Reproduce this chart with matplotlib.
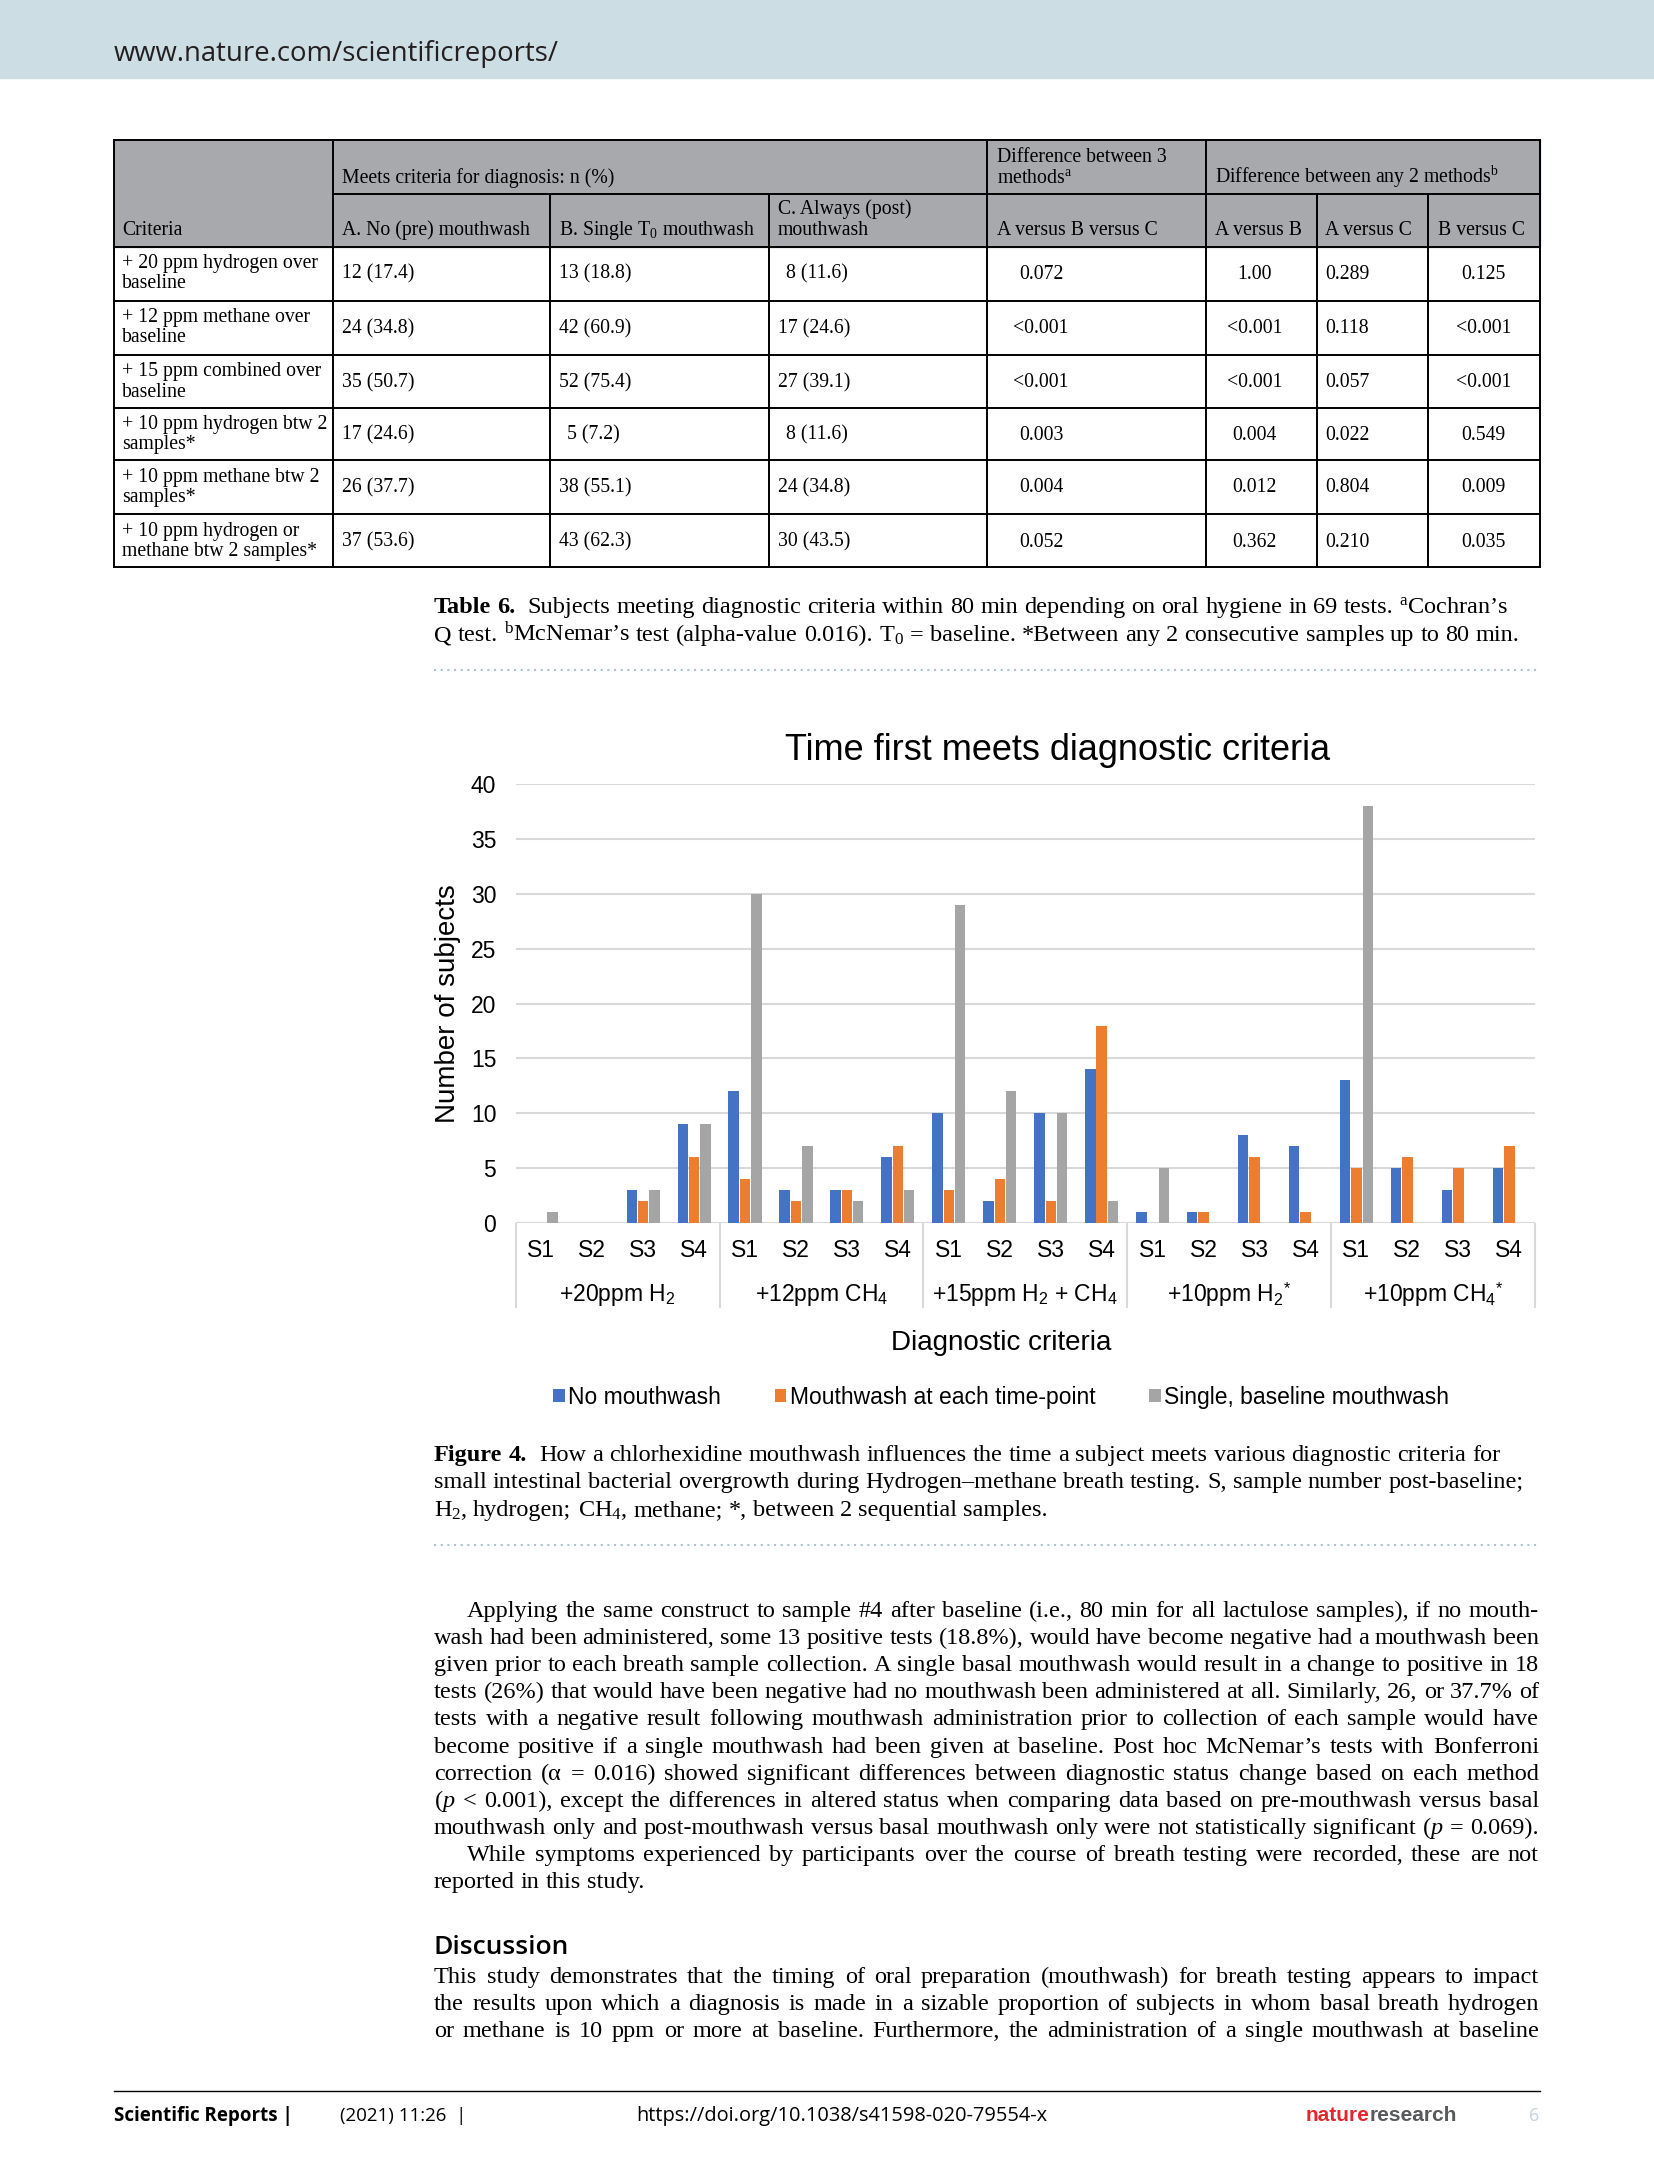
import matplotlib.pyplot as plt
from matplotlib.lines import Line2D
from matplotlib.patches import Rectangle, Patch

plt.rcParams['mathtext.fontset'] = 'custom'
plt.rcParams['mathtext.rm'] = 'Liberation Serif'
plt.rcParams['mathtext.it'] = 'Liberation Serif:italic'
plt.rcParams['mathtext.bf'] = 'Liberation Serif:bold'
plt.rcParams['mathtext.sf'] = 'Liberation Sans'

# ---- chart data (Figure 4) ----
groups = ['+20ppm H$_\\mathsf{2}$', '+12ppm CH$_\\mathsf{4}$', '+15ppm H$_\\mathsf{2}$ + CH$_\\mathsf{4}$',
          '+10ppm H$_\\mathsf{2}{}^\\mathsf{*}$', '+10ppm CH$_\\mathsf{4}{}^\\mathsf{*}$']
samples = ['S1', 'S2', 'S3', 'S4']
no_mouthwash = [0, 0, 3, 9, 12, 3, 3, 6, 10, 2, 10, 14, 1, 1, 8, 7, 13, 5, 3, 5]
each_timepoint = [0, 0, 2, 6, 4, 2, 3, 7, 3, 4, 2, 18, 0, 1, 6, 1, 5, 6, 5, 7]
single_baseline = [1, 0, 3, 9, 30, 7, 2, 3, 29, 12, 10, 2, 5, 0, 0, 0, 38, 0, 0, 0]
series_names = ['No mouthwash', 'Mouthwash at each time-point', 'Single, baseline mouthwash']

# ---- table data (Table 6) ----
criteria = ['+ 20 ppm hydrogen over\nbaseline', '+ 12 ppm methane over\nbaseline',
            '+ 15 ppm combined over\nbaseline', '+ 10 ppm hydrogen btw 2\nsamples*',
            '+ 10 ppm methane btw 2\nsamples*', '+ 10 ppm hydrogen or\nmethane btw 2 samples*']
col_a = ['12 (17.4)', '24 (34.8)', '35 (50.7)', '17 (24.6)', '26 (37.7)', '37 (53.6)']
col_b = ['13 (18.8)', '42 (60.9)', '52 (75.4)', '5 (7.2)', '38 (55.1)', '43 (62.3)']
col_c = ['8 (11.6)', '17 (24.6)', '27 (39.1)', '8 (11.6)', '24 (34.8)', '30 (43.5)']
p_abc = ['0.072', '<0.001', '<0.001', '0.003', '0.004', '0.052']
p_ab = ['1.00', '<0.001', '<0.001', '0.004', '0.012', '0.362']
p_ac = ['0.289', '0.118', '0.057', '0.022', '0.804', '0.210']
p_bc = ['0.125', '<0.001', '<0.001', '0.549', '0.009', '0.035']

NB = '\u00a0'
tab_cap = ['Table 6.  Subjects meeting diagnostic criteria within 80 min depending on oral hygiene in 69 tests. $^\\mathrm{a}$Cochran\u2019s',
           'Q test. $^\\mathrm{b}$McNemar\u2019s test (alpha-value 0.016). T$_0$' + NB + '=' + NB + 'baseline. *Between any 2 consecutive samples up to 80 min.']
fig_cap = ['Figure 4.  How a chlorhexidine mouthwash influences the time a subject meets various diagnostic criteria for',
           'small intestinal bacterial overgrowth during Hydrogen\u2013methane breath testing. S, sample number post-baseline;',
           'H$_2$, hydrogen; CH$_4$, methane; *, between 2 sequential samples.']
para1 = ['Applying the same construct to sample #4 after baseline (i.e., 80 min for all lactulose samples), if no mouth-',
         'wash had been administered, some 13 positive tests (18.8%), would have become negative had a mouthwash been',
         'given prior to each breath sample collection. A single basal mouthwash would result in a change to positive in 18',
         'tests (26%) that would have been negative had no mouthwash been administered at all. Similarly, 26, or 37.7% of',
         'tests with a negative result following mouthwash administration prior to collection of each sample would have',
         'become positive if a single mouthwash had been given at baseline. Post hoc McNemar\u2019s tests with Bonferroni',
         'correction (\u03b1' + NB + '=' + NB + '0.016) showed significant differences between diagnostic status change based on each method',
         '($p$' + NB + '<' + NB + '0.001), except the differences in altered status when comparing data based on pre-mouthwash versus basal',
         'mouthwash only and post-mouthwash versus basal mouthwash only were not statistically significant ($p$' + NB + '=' + NB + '0.069).']
para2 = ['While symptoms experienced by participants over the course of breath testing were recorded, these are not',
         'reported in this study.']
para3 = ['This study demonstrates that the timing of oral preparation (mouthwash) for breath testing appears to impact',
         'the results upon which a diagnosis is made in a sizable proportion of subjects in whom basal breath hydrogen',
         'or methane is 10 ppm or more at baseline. Furthermore, the administration of a single mouthwash at baseline']

# layout is measured on a 1193 x 1568 view of the page
W, H = 1193, 1568
K = 1654 / W


def fx(x):
    return x / W


def fy(y):
    return 1 - y / H


SERIF = 'Liberation Serif'
SANS = 'Liberation Sans'
OPEN = ['Open Sans', 'DejaVu Sans']

fig = plt.figure(figsize=(16.54, 21.74), dpi=100)
rend = fig.canvas.get_renderer()


def hline(x0, x1, y, **kw):
    fig.add_artist(Line2D([fx(x0), fx(x1)], [fy(y), fy(y)], transform=fig.transFigure, **kw))


def vline(x, y0, y1, **kw):
    fig.add_artist(Line2D([fx(x), fx(x)], [fy(y0), fy(y1)], transform=fig.transFigure, **kw))


def put_line(line, x0, y, size, x1=None, bold=0):
    # place a line word by word, stretching the spaces when x1 is given
    words = line.split()
    arts = [fig.text(0, fy(y), w, fontsize=size, family=SERIF, va='baseline', ha='left',
                     weight='bold' if i < bold else 'normal') for i, w in enumerate(words)]
    widths = [a.get_window_extent(rend).width for a in arts]
    space = size * 100 / 72 * 0.25
    extra = space if bold else 0
    if x1 is not None and len(words) > 1:
        space = ((x1 - x0) * K - sum(widths) - extra) / (len(words) - 1)
    pos = x0 * K
    for i, (a, w) in enumerate(zip(arts, widths)):
        a.set_x(pos / 1654)
        pos += w + space
        if i == bold - 1:
            pos += extra


# ---- page header ----
fig.add_artist(Rectangle((0, fy(56)), 1, fy(0) - fy(56), transform=fig.transFigure,
                         color='#cddde4', zorder=0))
fig.text(fx(82), fy(44), 'www.nature.com/scientificreports/', family=OPEN, fontsize=19.8,
         color='#231f20', va='baseline')

# ---- table ----
rows = [178, 217, 256, 294, 332, 371, 409]
fig.add_artist(Rectangle((fx(82), fy(178)), fx(1111) - fx(82), fy(101) - fy(178),
                         transform=fig.transFigure, color='#a7a9ac', zorder=0))
tl = dict(color='black', lw=1.4)
hline(82, 1111, 101, **tl)
hline(240, 1111, 140, **tl)
for r in rows:
    hline(82, 1111, r, **tl)
for x in [82, 240, 712, 870, 1111]:
    vline(x, 101, 409, **tl)
for x in [397, 555, 950, 1030]:
    vline(x, 140, 409, **tl)

ts = 14.2
fig.text(fx(88), fy(169.5), 'Criteria', family=SERIF, fontsize=ts, va='baseline')
fig.text(fx(247), fy(132), 'Meets criteria for diagnosis: n (%)', family=SERIF, fontsize=ts, va='baseline')
fig.text(fx(719), fy(116.5), 'Difference between 3', family=SERIF, fontsize=ts, va='baseline')
fig.text(fx(719), fy(132), 'methods$^\\mathrm{a}$', family=SERIF, fontsize=ts, va='baseline')
fig.text(fx(876), fy(132), 'Difference between any 2 methods$^\\mathrm{b}$', family=SERIF, fontsize=ts, va='baseline')
fig.text(fx(247), fy(169.5), 'A. No (pre) mouthwash', family=SERIF, fontsize=ts, va='baseline')
fig.text(fx(403), fy(169.5), 'B. Single T$_0$ mouthwash', family=SERIF, fontsize=ts, va='baseline')
fig.text(fx(561), fy(154.5), 'C. Always (post)', family=SERIF, fontsize=ts, va='baseline')
fig.text(fx(561), fy(169.5), 'mouthwash', family=SERIF, fontsize=ts, va='baseline')
fig.text(fx(719), fy(169.5), 'A versus B versus C', family=SERIF, fontsize=ts, va='baseline')
fig.text(fx(876), fy(169.5), 'A versus B', family=SERIF, fontsize=ts, va='baseline')
fig.text(fx(956), fy(169.5), 'A versus C', family=SERIF, fontsize=ts, va='baseline')
fig.text(fx(1037), fy(169.5), 'B versus C', family=SERIF, fontsize=ts, va='baseline')

for i in range(6):
    top = rows[i]
    base = top + 23.2
    l1, l2 = criteria[i].split('\n')
    fig.text(fx(88), fy(top + 15.5), l1, family=SERIF, fontsize=ts, va='baseline')
    fig.text(fx(88), fy(top + 30), l2, family=SERIF, fontsize=ts, va='baseline')
    for x, v in [(247, col_a[i]), (403, col_b[i]), (561, col_c[i])]:
        if v.index(' ') == 1:
            x += 6
        fig.text(fx(x), fy(base), v, family=SERIF, fontsize=ts, va='baseline')
    fig.text(fx(751), fy(base), p_abc[i], family=SERIF, fontsize=ts, va='baseline', ha='center')
    fig.text(fx(905), fy(base), p_ab[i], family=SERIF, fontsize=ts, va='baseline', ha='center')
    fig.text(fx(956), fy(base), p_ac[i], family=SERIF, fontsize=ts, va='baseline')
    fig.text(fx(1070), fy(base), p_bc[i], family=SERIF, fontsize=ts, va='baseline', ha='center')

bs = 17.5
put_line(tab_cap[0], 313, 442, bs, bold=2)
put_line(tab_cap[1], 313, 462.5, bs)
dots = dict(color='#a9c3cc', lw=1.5, linestyle=(0, (1, 2.2)))
hline(313, 1111, 483, **dots)

# ---- Figure 4 chart ----
ax = fig.add_axes([fx(372), fy(882), fx(1107) - fx(372), fy(565.7) - fy(882)])
x = list(range(20))
w = 0.205
off = 0.222
colors = ['#4472c4', '#ed7d31', '#a5a5a5']
ax.bar([i - off for i in x], no_mouthwash, width=w, color=colors[0], zorder=2)
ax.bar(x, each_timepoint, width=w, color=colors[1], zorder=2)
ax.bar([i + off for i in x], single_baseline, width=w, color=colors[2], zorder=2)
ax.set_xlim(-0.5, 19.5)
ax.set_ylim(0, 40)
ax.set_yticks(range(0, 41, 5))
ax.set_xticks([])
ax.tick_params(axis='y', length=0, pad=14, labelsize=16.5)
for lab in ax.get_yticklabels():
    lab.set_family(SANS)
ax.yaxis.grid(True, color='#d9d9d9', lw=1.5, zorder=0)
ax.set_axisbelow(True)
for s in ax.spines.values():
    s.set_visible(False)
ax.axhline(0, color='#d9d9d9', lw=1.5, zorder=1)
ax.vlines([-0.5, 3.5, 7.5, 11.5, 15.5, 19.5], -0.193, 0, transform=ax.get_xaxis_transform(),
          colors='#d9d9d9', lw=1.5, clip_on=False)
for i in x:
    ax.text(i, -0.062, samples[i % 4], transform=ax.get_xaxis_transform(), ha='center', va='center',
            family=SANS, fontsize=16.5)
for g, name in enumerate(groups):
    ax.text(4 * g + 1.5, -0.164, name, transform=ax.get_xaxis_transform(), ha='center', va='center',
            family=SANS, fontsize=16.5)

fig.text(fx(763), fy(541), 'Time first meets diagnostic criteria', family=SANS, fontsize=26,
         ha='center', va='center')
fig.text(fx(323), fy(724), 'Number of subjects', family=SANS, fontsize=20, rotation=90,
         ha='center', va='center')
fig.text(fx(722), fy(969), 'Diagnostic criteria', family=SANS, fontsize=20, ha='center', va='center')
handles = [Patch(facecolor=c) for c in colors]
ax.legend(handles, series_names, loc='center', bbox_to_anchor=(fx(722), fy(1008)),
          bbox_transform=fig.transFigure, ncol=3, frameon=False, handlelength=0.5, handleheight=0.5,
          handletextpad=0.15, columnspacing=2.35, prop={'family': SANS, 'size': 16.5})

# ---- figure caption ----
put_line(fig_cap[0], 313, 1053.5, bs, bold=2)
put_line(fig_cap[1], 313, 1073.5, bs)
put_line(fig_cap[2], 313, 1093.5, bs)
hline(313, 1111, 1114, **dots)

# ---- body text ----
y = 1166
for j, line in enumerate(para1):
    put_line(line, 337 if j == 0 else 313, y, bs, x1=1110)
    y += 19.6
put_line(para2[0], 337, y, bs, x1=1110)
y += 19.6
put_line(para2[1], 313, y, bs)

fig.text(fx(313), fy(1409), 'Discussion', family=OPEN, fontsize=19, weight='semibold', va='baseline')
y = 1430
for line in para3:
    put_line(line, 313, y, bs, x1=1110)
    y += 19.6

# ---- footer ----
hline(82, 1111, 1508, color='black', lw=1)
fig.text(fx(82), fy(1530), 'Scientific Reports |', family=OPEN, fontsize=13.5, weight='bold', va='baseline')
fig.text(fx(245), fy(1530), '(2021) 11:26  |', family=OPEN, fontsize=13.5, va='baseline')
fig.text(fx(459), fy(1530), 'https://doi.org/10.1038/s41598-020-79554-x', family=OPEN, fontsize=14.4, va='baseline')
t = fig.text(fx(942), fy(1530), 'nature', family=['Liberation Sans Narrow', SANS], fontsize=15,
             weight='bold', color='#e4262d', va='baseline')
wpx = t.get_window_extent(rend).width
fig.text(fx(942) + wpx / 1654, fy(1530), 'research', family=['Liberation Sans Narrow', SANS], fontsize=15,
         weight='bold', color='#58595b', va='baseline')
fig.text(fx(1103), fy(1530), '6', family=OPEN, fontsize=13, color='#c5d3d9', va='baseline')

fig.savefig('out.png', dpi=100)
